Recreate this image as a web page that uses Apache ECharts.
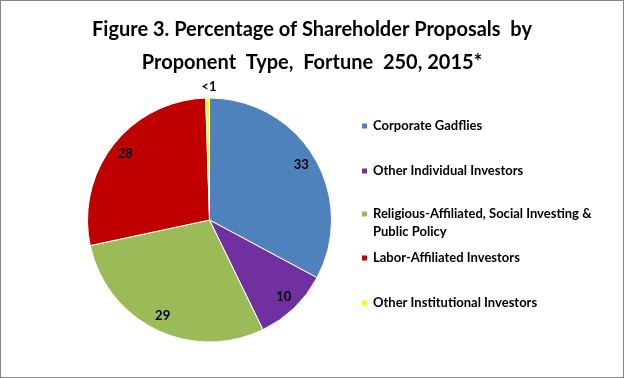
<!DOCTYPE html>
<html><head><meta charset="utf-8">
<script src="https://cdn.jsdelivr.net/npm/echarts@6/dist/echarts.min.js"></script>
<style>
html,body{margin:0;padding:0;background:#fff;}
#c{width:624px;height:378px;position:absolute;left:0;top:0;}
#b{width:624px;height:378px;position:absolute;left:0;top:0;box-sizing:border-box;border:1px solid #868686;pointer-events:none;}
</style></head><body>
<div id="c"></div><div id="b"></div>
<script>
const categories = ['Corporate Gadflies','Other Individual Investors','Religious-Affiliated, Social Investing & Public Policy','Labor-Affiliated Investors','Other Institutional Investors'];
const legendTexts = ['Corporate Gadflies','Other Individual Investors','\nReligious-Affiliated, Social Investing &\nPublic Policy','Labor-Affiliated Investors','Other Institutional Investors'];
const values = [33, 10, 29, 28, 0.5];
const valueLabels = ['33','10','29','28','<1'];
const colors = ['#4F81BD','#7030A0','#9BBB59','#C00000','#FFFF00'];

const legendCenters = [126, 171, 214, 258, 303];
const font = 'Lato, "Liberation Sans", sans-serif';

const chart = echarts.init(document.getElementById('c'));
const center = [209.5, 220];
const R = 122;

const legends = categories.map((name, i) => {
  const multi = legendTexts[i].indexOf('\n') >= 0;
  return {
    orient: 'vertical',
    left: 360,
    top: multi ? legendCenters[i] - 27 : legendCenters[i] - 9,
    padding: 0,
    icon: 'rect',
    itemWidth: 7,
    itemHeight: 7,
    itemGap: 5,
    selectedMode: false,
    data: [name],
    formatter: () => legendTexts[i],
    textStyle: {
      fontFamily: font, fontSize: 13, fontWeight: 'bold', color: '#000', lineHeight: 18
    }
  };
});

chart.setOption({
  animation: false,
  backgroundColor: '#fff',
  title: {
    text: 'Figure 3. Percentage of Shareholder Proposals  by\nProponent  Type,  Fortune  250, 2015*',
    left: 'center',
    top: 8,
    textStyle: { fontFamily: font, fontSize: 20, fontWeight: 'bold', color: '#000', lineHeight: 33 }
  },
  legend: legends,
  series: [
    {
      type: 'pie',
      center: center,
      radius: [0, R],
      startAngle: 90,
      clockwise: true,
      avoidLabelOverlap: false,
      itemStyle: { borderColor: '#fff', borderWidth: 1 },
      labelLine: { show: false, length: 11, length2: 0 },
      data: categories.map((name, i) => ({
        name: name,
        value: values[i],
        itemStyle: { color: colors[i] },
        label: {
          show: i === 4,
          position: 'outside',
          formatter: valueLabels[i],
          fontFamily: font, fontSize: 13, fontWeight: 'bold', color: '#000',
          distanceToLabelLine: -9
        }
      }))
    },
    {
      type: 'pie',
      center: center,
      radius: [86, R],
      startAngle: 90,
      clockwise: true,
      silent: true,
      avoidLabelOverlap: false,
      itemStyle: { color: 'rgba(0,0,0,0)', borderWidth: 0 },
      labelLine: { show: false },
      data: categories.map((name, i) => ({
        name: name,
        value: values[i],
        label: {
          show: i !== 4,
          position: 'inside',
          formatter: valueLabels[i],
          fontFamily: font, fontSize: 13, fontWeight: 'bold', color: '#000'
        }
      }))
    }
  ]
});
</script>
</body></html>
